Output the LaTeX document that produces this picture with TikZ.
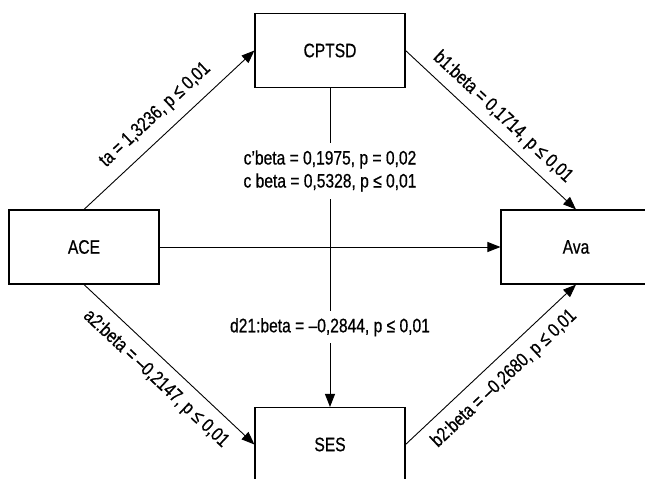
\documentclass[tikz,border=0pt]{standalone}
\usepackage{fontspec}
\setmainfont{Liberation Sans}[FakeStretch=0.8, FakeBold=0.6]
\usetikzlibrary{arrows.meta, positioning}
\tikzset{
  varbox/.style   = {draw, line width=1.1pt, minimum width=150pt,
                     minimum height=74pt, inner sep=0pt},
  effect/.style   = {-{Triangle[length=13pt, width=10pt]}, line width=0.9pt},
  coef/.style     = {sloped, inner sep=2pt},
  midlbl/.style   = {fill=white, align=center, inner xsep=4pt, inner ysep=7pt},
}

\begin{document}
\begin{tikzpicture}[x=1pt, y=-1pt, font=\fontsize{19.5}{23}\selectfont]
  \useasboundingbox (0,0) rectangle (645,479);

  % the four variables
  \node[varbox] (ace)   at (84,247)   {ACE};
  \node[varbox] (cptsd) at (330,50.5) {CPTSD};
  \node[varbox] (ava)   at (576,247)  {Ava};
  \node[varbox] (ses)   at (330,444.5) {SES};

  % direct effect
  \draw[effect] (ace.east) -- (ava.west);

  % mediator to mediator, with the overall coefficients
  \draw[effect] (cptsd.south) -- (ses.north)
    node[midlbl, pos=0.26] {c’beta = 0,1975, p = 0,02\\c beta = 0,5328, p ≤ 0,01}
    node[midlbl, pos=0.75] {d21:beta = –0,2844, p ≤ 0,01};

  % paths through the mediators
  \draw[effect] (ace.north) -- (cptsd.west)
    node[coef, midway, above=9pt] {ta = 1,3236, p ≤ 0,01};
  \draw[effect] (cptsd.east) -- (ava.north)
    node[coef, midway, above=6pt] {b1:beta = 0,1714, p ≤ 0,01};
  \draw[effect] (ace.south) -- (ses.west)
    node[coef, midway, below=8pt] {a2:beta = –0,2147, p ≤ 0,01};
  \draw[effect] (ses.east) -- (ava.south)
    node[coef, midway, below=8pt] {b2:beta = –0,2680, p ≤ 0,01};
\end{tikzpicture}
\end{document}
